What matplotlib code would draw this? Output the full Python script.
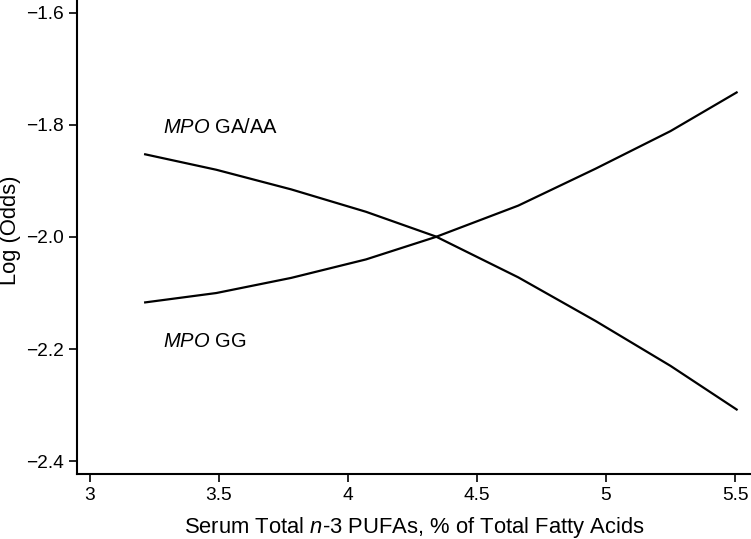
import matplotlib
matplotlib.use('Agg')
import matplotlib.pyplot as plt

# --- data ---
pufa = [3.21, 3.49, 3.78, 4.07, 4.34, 4.66, 4.96, 5.25, 5.51]
logodds_ga_aa = [-1.852, -1.880, -1.915, -1.955, -1.999, -2.072, -2.150, -2.230, -2.309]
logodds_gg = [-2.117, -2.100, -2.073, -2.040, -2.000, -1.944, -1.878, -1.811, -1.741]

x_ticks = [3, 3.5, 4, 4.5, 5, 5.5]
x_ticklabels = ['3', '3.5', '4', '4.5', '5', '5.5']
y_ticks = [-2.4, -2.2, -2.0, -1.8, -1.6]
y_ticklabels = ['\u22122.4', '\u22122.2', '\u22122.0', '\u22121.8', '\u22121.6']

plt.rcParams['font.family'] = ['Liberation Sans', 'DejaVu Sans']
plt.rcParams['mathtext.fontset'] = 'custom'
plt.rcParams['mathtext.rm'] = 'Liberation Sans'
plt.rcParams['mathtext.it'] = 'Liberation Sans:italic'

fig = plt.figure(figsize=(7.51, 5.39), dpi=100)
ax = fig.add_axes([0.1025, 0.1206, 0.8975, 0.8794])

ax.plot(pufa, logodds_ga_aa, color='black', linewidth=1.6, solid_capstyle='butt')
ax.plot(pufa, logodds_gg, color='black', linewidth=1.6, solid_capstyle='butt')

# curve labels
ax.text(3.283, -1.805, r'$\it{MPO}$ GA/AA', fontsize=14.5, va='center', ha='left')
ax.text(3.283, -2.186, r'$\it{MPO}$ GG', fontsize=14.5, va='center', ha='left')

ax.set_xlim(2.95, 5.562)
ax.set_ylim(-2.423, -1.577)
ax.set_xticks(x_ticks)
ax.set_xticklabels(x_ticklabels)
ax.set_yticks(y_ticks)
ax.set_yticklabels(y_ticklabels)

for side in ['top', 'right']:
    ax.spines[side].set_visible(False)
for side in ['left', 'bottom']:
    ax.spines[side].set_linewidth(1.5)

ax.tick_params(direction='out', length=6, width=1.2, labelsize=13.8, pad=3.6)
ax.set_xlabel(r'Serum Total $\it{n}$-3 PUFAs, % of Total Fatty Acids', fontsize=15.8, va='center')
ax.set_ylabel('Log (Odds)', fontsize=15.8, va='center', ha='center')
ax.xaxis.set_label_coords(0.5, -0.112)
ax.yaxis.set_label_coords(-0.098, 0.515)

fig.savefig('out.png', dpi=100)
